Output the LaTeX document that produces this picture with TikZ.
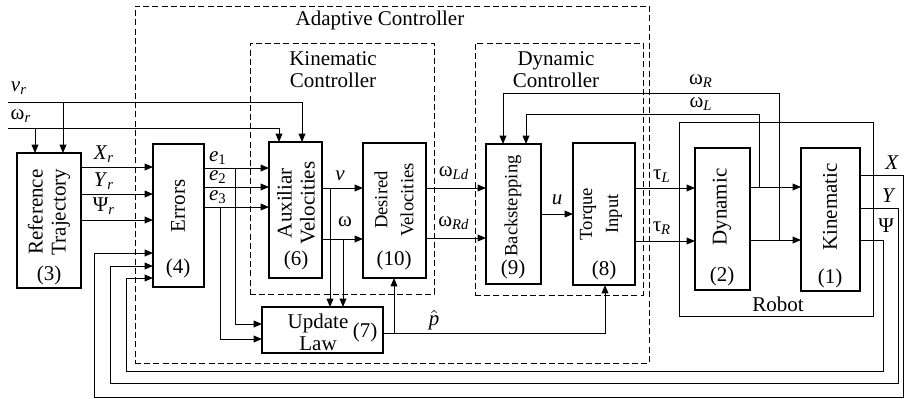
\documentclass[tikz,border=0pt]{standalone}
\usepackage{fontspec}
\setmainfont{Liberation Serif}
\usetikzlibrary{arrows.meta}
\newcommand\sbs[1]{\textsubscript{\textit{#1}}}
\newcommand\bx[6]{\node[#1, minimum width={(#5-#3)*0.5pt}, minimum height={(#6-#4)*0.5pt}] (#2) at ({(#3+#5)/2},{(#4+#6)/2}) {};}
\begin{document}
\begin{tikzpicture}[x=0.5pt,y=-0.5pt,
  every node/.style={font=\fontsize{10.5}{11}\selectfont, inner sep=0pt, outer sep=0pt},
  blk/.style={draw, line width=1pt},
  thinblk/.style={draw, line width=0.5pt},
  grp/.style={draw, line width=0.5pt, dash pattern=on 3pt off 1.6pt},
  arr/.style={line width=0.5pt, -{Triangle[length=4.2pt,width=3.4pt]}},
  ln/.style={line width=0.5pt},
  rot/.style={rotate=90, align=center, font=\fontsize{10.5}{11.5}\selectfont},
  srot/.style={rotate=90, align=center, font=\fontsize{9.3}{13}\selectfont}]
\useasboundingbox (0,0) rectangle (904,398);
% groups
\bx{grp}{adapt}{135}{6}{649}{363}
\bx{grp}{kinc}{250}{43}{434}{294}
\bx{grp}{dync}{475}{43}{643}{295}
\bx{thinblk}{robot}{679}{122}{873}{316}
\node (tadapt) at (380,20) {Adaptive Controller};
\node[align=center] (tkinc) at (333,70) {Kinematic\\Controller};
\node[align=center] (tdync) at (556,70) {Dynamic\\Controller};
\node (trobot) at (778,304) {Robot};
% blocks
\bx{blk}{ref}{17}{153}{81}{288}
\bx{blk}{err}{153}{144}{204}{287}
\bx{blk}{aux}{269}{142}{322}{278}
\bx{blk}{des}{363}{143}{426}{278}
\bx{blk}{upd}{262}{307}{383}{353}
\bx{blk}{bs}{486}{144}{541}{284}
\bx{blk}{tq}{573}{143}{635}{285}
\bx{blk}{dyn}{695}{148}{750}{290}
\bx{blk}{kin}{801}{148}{860}{291}
% block texts
\node[rot] (tref) at (49,212) {Reference\\Trajectory};
\node (nref) at (49,275) {(3)};
\node[rot] (terr) at (178,206) {Errors};
\node (nerr) at (178,268) {(4)};
\node[rot] (taux) at (296,203) {Auxiliar\\Velocities};
\node (naux) at (296,260) {(6)};
\node[srot] (tdes) at (394,200) {Desired\\Velocities};
\node (ndes) at (394,260) {(10)};
\node[align=center] (tupd) at (318,332) {Update\\Law};
\node (nupd) at (365,332) {(7)};
\node[srot] (tbs) at (513,206) {Backstepping};
\node (nbs) at (513,269) {(9)};
\node[srot] (ttq) at (601,214) {Torque\\Input};
\node (ntq) at (604,270) {(8)};
\node[rot] (tdyn) at (722,207) {Dynamic};
\node (ndyn) at (722,276) {(2)};
\node[rot] (tkin) at (830,207) {Kinematic};
\node (nkin) at (830,278) {(1)};
% reference inputs
\coordinate (vrin) at (8,102);
\coordinate (wrin) at (8,128);
\draw[arr] (vrin) -- (302,102) -- (302,0 |- aux.north);
\draw[arr] (63,102) -- (63,0 |- ref.north);
\draw[arr] (wrin) -- (279,128) -- (279,0 |- aux.north);
\draw[arr] (35,128) -- (35,0 |- ref.north);
\node (lvr) at (19,88) {\textit{v}\sbs{r}};
\node (lwr) at (21,116) {ω\sbs{r}};
% ref -> errors
\draw[arr] (ref.east |- 0,167) -- (err.west |- 0,167);
\draw[arr] (ref.east |- 0,194) -- (err.west |- 0,194);
\draw[arr] (ref.east |- 0,220) -- (err.west |- 0,220);
\node (lxr) at (104,154) {\textit{X}\sbs{r}};
\node (lyr) at (104,181) {\textit{Y}\sbs{r}};
\node (lpr) at (104,206) {Ψ\sbs{r}};
% errors -> aux
\draw[arr] (err.east |- 0,168) -- (aux.west |- 0,168);
\draw[arr] (err.east |- 0,187) -- (aux.west |- 0,187);
\draw[arr] (err.east |- 0,207) -- (aux.west |- 0,207);
\node (le1) at (218,158) {\textit{e}\textsubscript{1}};
\node (le2) at (218,177) {\textit{e}\textsubscript{2}};
\node (le3) at (218,197) {\textit{e}\textsubscript{3}};
\draw[arr] (235,168) -- (235,324) -- (upd.west |- 0,324);
\draw[arr] (220,207) -- (220,339) -- (upd.west |- 0,339);
% aux -> desired
\draw[arr] (aux.east |- 0,188) -- (des.west |- 0,188);
\draw[arr] (aux.east |- 0,239) -- (des.west |- 0,239);
\node (lv) at (340,176) {\textit{v}};
\node (lw) at (345,222) {ω};
\draw[arr] (330,188) -- (330,0 |- upd.north);
\draw[arr] (343,239) -- (343,0 |- upd.north);
% update law output
\draw[arr] (upd.east |- 0,333) -- (605,333) -- (605,0 |- tq.south);
\draw[arr] (394,333) -- (394,0 |- des.south);
\node (lp) at (434,320) {$\hat{\textit{p}}$};
% desired -> backstepping
\draw[arr] (des.east |- 0,188) -- (bs.west |- 0,188);
\draw[arr] (des.east |- 0,238) -- (bs.west |- 0,238);
\node (lwld) at (454,173) {ω\sbs{Ld}};
\node (lwrd) at (454,223) {ω\sbs{Rd}};
% backstepping -> torque
\draw[arr] (bs.east |- 0,214) -- (tq.west |- 0,214);
\node (lu) at (557,200) {\textit{u}};
% torque -> dynamic
\draw[arr] (tq.east |- 0,188) -- (dyn.west |- 0,188);
\draw[arr] (tq.east |- 0,241) -- (dyn.west |- 0,241);
\node (ltl) at (662,176) {τ\sbs{L}};
\node (ltr) at (662,228) {τ\sbs{R}};
% dynamic -> kinematic
\draw[arr] (dyn.east |- 0,187) -- (kin.west |- 0,187);
\draw[arr] (dyn.east |- 0,240) -- (kin.west |- 0,240);
% wheel velocity feedback
\draw[arr] (759,187) -- (759,114) -- (526,114) -- (526,0 |- bs.north);
\draw[arr] (779,240) -- (779,93) -- (503,93) -- (503,0 |- bs.north);
\node (lwR) at (701,81) {ω\sbs{R}};
\node (lwL) at (701,104) {ω\sbs{L}};
% outputs and pose feedback
\draw[arr] (kin.east |- 0,175) -- (903,175) -- (903,397) -- (94,397) -- (94,253) -- (err.west |- 0,253);
\draw[arr] (kin.east |- 0,208) -- (898,208) -- (898,383) -- (110,383) -- (110,266) -- (err.west |- 0,266);
\draw[arr] (kin.east |- 0,240) -- (883,240) -- (883,371) -- (126,371) -- (126,278) -- (err.west |- 0,278);
\node (lX) at (892,163) {\textit{X}};
\node (lY) at (889,196) {\textit{Y}};
\node (lPsi) at (886,226) {Ψ};
\end{tikzpicture}
\end{document}
